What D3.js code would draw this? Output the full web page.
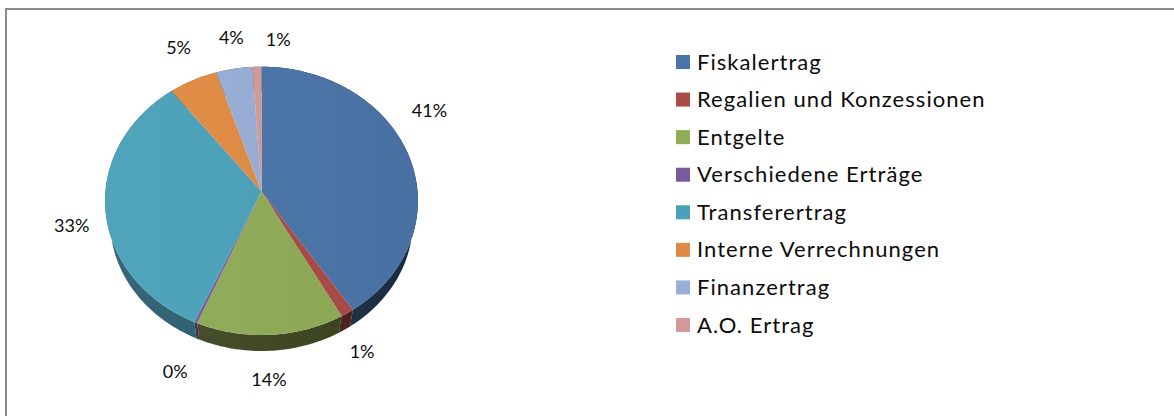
<!DOCTYPE html>
<html>
<head>
<meta charset="utf-8">
<script src="https://cdnjs.cloudflare.com/ajax/libs/d3/7.8.5/d3.min.js"></script>
<style>
  html, body { margin: 0; padding: 0; background: #fff; overflow: hidden; }
  text { font-family: Lato, "Open Sans", sans-serif; fill: #0c0c0c; }
</style>
</head>
<body>
<div id="chart"></div>
<script>
// data
const categories = ["Fiskalertrag", "Regalien und Konzessionen", "Entgelte", "Verschiedene Erträge",
  "Transferertrag", "Interne Verrechnungen", "Finanzertrag", "A.O. Ertrag"];
const shares = [40.7, 1.3, 14.3, 0.3, 33.0, 5.4, 4.0, 1.0];
const topColors = ["#4a74a9", "#aa4b48", "#8fac57", "#775c9b", "#4aa1ba", "#e08b43", "#98aed6", "#d49a99"];
const wallColors = ["#1b3049", "#521d1b", "#3a431c", "#33224c", "#235a6c", "#6e4015", "#48587a", "#6c4544"];

// layout
const WIDTH = 1174;
const HEIGHT = 416;
const k = 0.0697; // perspective tilt of the pie
const topFace = { cx: 261.5, cy: 191.5, rx: 156, ry: 133.5 };
const bottomFace = { cx: 261.5, cy: 212, rx: 151, ry: 129.3 };
const labelRadius = 1.15;
const labelNudge = [[0, -38], [1, 18], [-3, 21], [-10, 27], [-10, 15], [-5, -18], [1, -15], [22, -10]];

const svg = d3.select("#chart").append("svg")
  .attr("width", WIDTH)
  .attr("height", HEIGHT)
  .attr("viewBox", `0 0 ${WIDTH} ${HEIGHT}`)
  .style("display", "block");

// soft light from the left over the top face
const defs = svg.append("defs");
const sheen = defs.append("linearGradient").attr("id", "sheen");
sheen.append("stop").attr("offset", "0%").attr("stop-color", "#fff").attr("stop-opacity", 0.03);
sheen.append("stop").attr("offset", "100%").attr("stop-color", "#000").attr("stop-opacity", 0.04);
const wallShade = defs.append("linearGradient").attr("id", "wallShade");
wallShade.append("stop").attr("offset", "0%").attr("stop-color", "#fff").attr("stop-opacity", 0.08);
wallShade.append("stop").attr("offset", "100%").attr("stop-color", "#000").attr("stop-opacity", 0.12);

// frame, only top and left are in the crop
svg.append("path")
  .attr("d", d3.line()([[6, HEIGHT], [6, 9], [WIDTH, 9]]))
  .attr("fill", "none")
  .attr("stroke", "#8c8c8c")
  .attr("stroke-width", 2);

const pie = d3.pie().sort(null).value(d => d);
const arcs = pie(shares);

// angle (0 = up, clockwise) to screen, with the pie's perspective
function project(face, angle, r = 1) {
  const u = r * Math.sin(angle);
  const v = -r * Math.cos(angle);
  const w = 1 - k * v;
  return [face.cx + face.rx * u / w, face.cy + face.ry * v / w];
}

function rim(face, a0, a1) {
  const steps = Math.max(2, Math.ceil((a1 - a0) / 0.02));
  return d3.range(steps + 1).map(i => project(face, a0 + (a1 - a0) * i / steps));
}

const line = d3.line();
const pieG = svg.append("g");

// walls first, the top face covers whatever is at the back
pieG.selectAll(".wall")
  .data(arcs)
  .enter()
  .append("path")
  .attr("class", "wall")
  .attr("d", d => line([...rim(topFace, d.startAngle, d.endAngle), ...rim(bottomFace, d.startAngle, d.endAngle).reverse()]) + "Z")
  .attr("fill", (d, i) => wallColors[i]);

pieG.append("path")
  .attr("d", line([...rim(topFace, 0, 2 * Math.PI), ...rim(bottomFace, 0, 2 * Math.PI).reverse()]) + "Z")
  .attr("fill", "url(#wallShade)")
  .attr("fill-rule", "evenodd");

pieG.selectAll(".slice")
  .data(arcs)
  .enter()
  .append("path")
  .attr("class", "slice")
  .attr("d", d => line([[topFace.cx, topFace.cy], ...rim(topFace, d.startAngle, d.endAngle)]) + "Z")
  .attr("fill", (d, i) => topColors[i]);

pieG.append("path")
  .attr("d", line(rim(topFace, 0, 2 * Math.PI)) + "Z")
  .attr("fill", "url(#sheen)");

// data labels
const total = d3.sum(shares);
const pct = d3.format(".0%");
svg.selectAll(".pct")
  .data(arcs)
  .enter()
  .append("text")
  .attr("class", "pct")
  .attr("x", (d, i) => project(topFace, (d.startAngle + d.endAngle) / 2, labelRadius)[0] + labelNudge[i][0])
  .attr("y", (d, i) => project(topFace, (d.startAngle + d.endAngle) / 2, labelRadius)[1] + labelNudge[i][1])
  .attr("text-anchor", "middle")
  .attr("dominant-baseline", "central")
  .style("font-size", "18px")
  .text(d => pct(d.value / total));

// legend
const legendY = d3.scalePoint().domain(categories).range([62, 325]);
const legend = svg.selectAll(".legend")
  .data(categories)
  .enter()
  .append("g")
  .attr("class", "legend")
  .attr("transform", d => `translate(676,${legendY(d)})`);

legend.append("rect")
  .attr("y", -7)
  .attr("width", 14)
  .attr("height", 14)
  .attr("fill", (d, i) => topColors[i]);

legend.append("text")
  .attr("x", 21)
  .attr("y", -1)
  .attr("dominant-baseline", "central")
  .style("font-size", "22px")
  .style("letter-spacing", "1.05px")
  .text(d => d);
</script>
</body>
</html>
